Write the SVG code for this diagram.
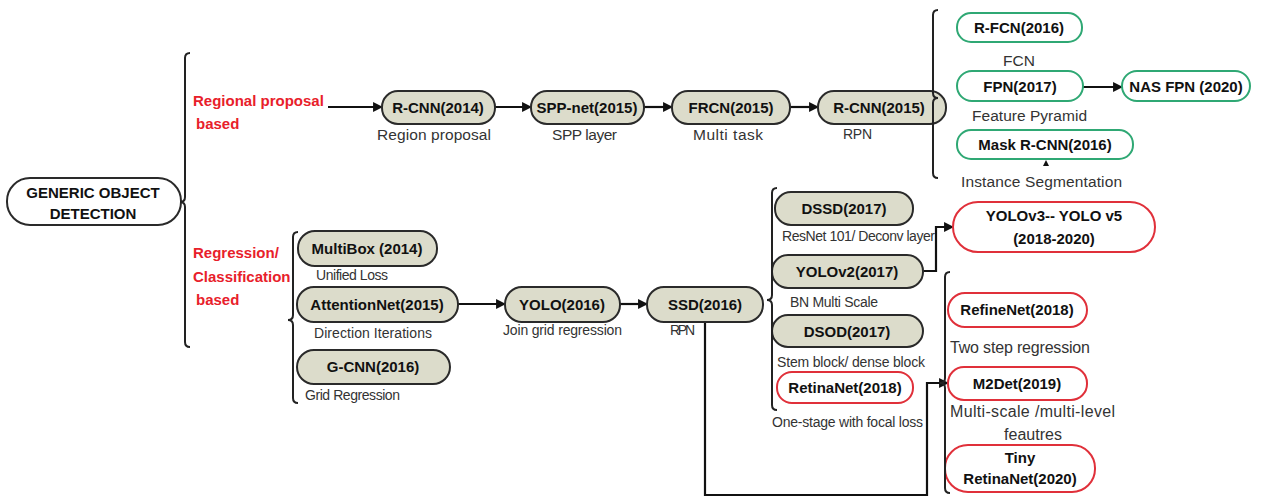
<svg xmlns="http://www.w3.org/2000/svg" width="1263" height="501" viewBox="0 0 1263 501">
<defs>
<marker id="ah" viewBox="0 0 10 10" refX="9" refY="5" markerWidth="4.5" markerHeight="4.5" orient="auto" markerUnits="strokeWidth"><path d="M0,0 L10,5 L0,10 z" fill="#111"/></marker>
</defs>
<style>
.n{fill:#dcdccb;stroke:#2a2a2a;stroke-width:2}
.g{fill:#fff;stroke:#2fa874;stroke-width:2}
.r{fill:#fff;stroke:#e0303a;stroke-width:2}
.w{fill:#fff;stroke:#2a2a2a;stroke-width:2}
.t{font-family:"Liberation Sans",Arial,sans-serif;font-weight:bold;font-size:15px;fill:#111;text-anchor:middle}
.s{font-family:"Liberation Sans",Arial,sans-serif;font-size:15.5px;fill:#333}
.sl{font-family:"Liberation Sans",Arial,sans-serif;font-size:16px;fill:#333}
.ss{font-family:"Liberation Sans",Arial,sans-serif;font-size:14px;fill:#333}
.red{font-family:"Liberation Sans",Arial,sans-serif;font-weight:bold;font-size:15px;fill:#e8202a}
.c{fill:none;stroke:#111;stroke-width:2.2}
.b{fill:none;stroke:#222;stroke-width:2}
</style>
<rect width="1263" height="501" fill="#fff"/>

<g id="labels">
<text class="red" x="193" y="106">Regional proposal</text>
<text class="red" x="196" y="129">based</text>
<text class="red" x="193" y="258">Regression/</text>
<text class="red" x="193" y="282">Classification</text>
<text class="red" x="196" y="305">based</text>
</g>

<g id="connectors">
<path class="c" d="M328,107 L382,107" marker-end="url(#ah)"/>
<path class="c" d="M495,107 L531,107" marker-end="url(#ah)"/>
<path class="c" d="M644,107 L672,107" marker-end="url(#ah)"/>
<path class="c" d="M790,107 L818,107" marker-end="url(#ah)"/>
<path class="c" d="M1083,87 L1122,87" marker-end="url(#ah)"/>
<path class="c" d="M458,304 L505,304" marker-end="url(#ah)"/>
<path class="c" d="M620,304 L647,304" marker-end="url(#ah)"/>
<path class="c" d="M923,271 L936,271 L936,227 L953,227" marker-end="url(#ah)"/>
<path class="c" d="M705,322 L705,495 L927,495 L927,383 L948,383" marker-end="url(#ah)"/>
<path d="M1043,166 L1046,160 L1049,166 z" fill="#111"/>
</g>

<g id="n-god"><rect class="w" x="7" y="178" width="174" height="47" rx="23"/><text class="t" x="93" y="198">GENERIC OBJECT</text><text class="t" x="93" y="219">DETECTION</text></g>

<g id="n-rcnn14"><rect class="n" x="382" y="91" width="113" height="33" rx="16"/><text class="t" x="438" y="113">R-CNN(2014)</text><text class="s" x="377" y="140" textLength="114">Region proposal</text></g>
<g id="n-spp"><rect class="n" x="531" y="91" width="113" height="33" rx="16"/><text class="t" x="587" y="113">SPP-net(2015)</text><text class="s" x="552" y="140" textLength="65">SPP layer</text></g>
<g id="n-frcn"><rect class="n" x="672" y="91" width="118" height="33" rx="16"/><text class="t" x="731" y="113">FRCN(2015)</text><text class="s" x="693" y="140" textLength="70">Multi task</text></g>
<g id="n-rcnn15"><rect class="n" x="818" y="91" width="128" height="33" rx="16"/><text class="t" x="879" y="113">R-CNN(2015)</text><text class="ss" x="843" y="139" textLength="29">RPN</text></g>

<g id="n-rfcn"><rect class="g" x="957" y="13" width="125" height="29" rx="14"/><text class="t" x="1019" y="33">R-FCN(2016)</text><text class="s" x="1019" y="66" text-anchor="middle">FCN</text></g>
<g id="n-fpn"><rect class="g" x="957" y="71" width="126" height="30" rx="15"/><text class="t" x="1020" y="92">FPN(2017)</text><text class="s" x="972" y="121" textLength="115">Feature Pyramid</text></g>
<g id="n-nasfpn"><rect class="g" x="1122" y="71" width="128" height="30" rx="15"/><text class="t" x="1186" y="92">NAS FPN (2020)</text></g>
<g id="n-mask"><rect class="g" x="957" y="130" width="176" height="29" rx="14"/><text class="t" x="1045" y="150">Mask R-CNN(2016)</text><text class="s" x="961" y="187" textLength="161">Instance Segmentation</text></g>

<g id="n-multibox"><rect class="n" x="298" y="231" width="139" height="35" rx="17"/><text class="t" x="367" y="254">MultiBox (2014)</text><text class="ss" x="316" y="280" textLength="72">Unified Loss</text></g>
<g id="n-attn"><rect class="n" x="297" y="287" width="161" height="35" rx="17"/><text class="t" x="377" y="310">AttentionNet(2015)</text><text class="ss" x="314" y="338" textLength="118">Direction Iterations</text></g>
<g id="n-gcnn"><rect class="n" x="297" y="350" width="153" height="34" rx="17"/><text class="t" x="373" y="372">G-CNN(2016)</text><text class="ss" x="305" y="400" textLength="95">Grid Regression</text></g>

<g id="n-yolo"><rect class="n" x="505" y="287" width="115" height="35" rx="17"/><text class="t" x="562" y="310">YOLO(2016)</text><text class="ss" x="503" y="335" textLength="119">Join grid regression</text></g>
<g id="n-ssd"><rect class="n" x="647" y="287" width="116" height="35" rx="17"/><text class="t" x="705" y="310">SSD(2016)</text><text class="ss" x="670" y="335" textLength="25">RPN</text></g>

<g id="n-dssd"><rect class="n" x="775" y="192" width="138" height="33" rx="16"/><text class="t" x="844" y="214">DSSD(2017)</text><text class="ss" x="782" y="241" textLength="153">ResNet 101/ Deconv layer</text></g>
<g id="n-yolov2"><rect class="n" x="772" y="255" width="151" height="33" rx="16"/><text class="t" x="847" y="277">YOLOv2(2017)</text><text class="ss" x="790" y="307" textLength="88">BN Multi Scale</text></g>
<g id="n-dsod"><rect class="n" x="772" y="315" width="151" height="32" rx="16"/><text class="t" x="847" y="337">DSOD(2017)</text><text class="ss" x="777" y="367" textLength="148">Stem block/ dense block</text></g>
<g id="n-retina"><rect class="r" x="777" y="372" width="136" height="31" rx="15"/><text class="t" x="845" y="393">RetinaNet(2018)</text><text class="ss" x="772" y="427" textLength="151">One-stage with focal loss</text></g>

<g id="n-yolov3"><rect class="r" x="953" y="202" width="202" height="50" rx="25"/><text class="t" x="1054" y="221">YOLOv3-- YOLO v5</text><text class="t" x="1054" y="244">(2018-2020)</text></g>
<g id="n-refine"><rect class="r" x="948" y="293" width="139" height="34" rx="17"/><text class="t" x="1017" y="315">RefineNet(2018)</text><text class="sl" x="950" y="353" textLength="140">Two step regression</text></g>
<g id="n-m2det"><rect class="r" x="948" y="367" width="139" height="33" rx="16"/><text class="t" x="1017" y="389">M2Det(2019)</text><text class="sl" x="950" y="417" textLength="165">Multi-scale /multi-level</text><text class="sl" x="1033" y="440" text-anchor="middle">feautres</text></g>
<g id="n-tiny"><rect class="r" x="945" y="445" width="150" height="47" rx="23"/><text class="t" x="1020" y="463">Tiny</text><text class="t" x="1020" y="484">RetinaNet(2020)</text></g>

<g id="braces">
<path class="b" d="M190,53 Q185,53 185,58 L185,197 Q185,202 180,202 Q185,202 185,207 L185,342 Q185,347 190,347"/>
<path class="b" d="M298,232 Q293,232 293,237 L293,315 Q293,320 288,320 Q293,320 293,325 L293,398 Q293,403 298,403"/>
<path class="b" d="M938,10 Q933,10 933,15 L933,93 Q933,98 938,98 Q933,98 933,103 L933,173 Q933,178 938,178"/>
<path class="b" d="M777,188 Q772,188 772,193 L772,295 Q772,300 767,300 Q772,300 772,305 L772,405 Q772,410 777,410"/>
<path class="b" d="M950,272 Q945,272 945,277 L945,378 Q945,383 940,383 Q945,383 945,388 L945,488 Q945,493 950,493"/>
</g>
</svg>
